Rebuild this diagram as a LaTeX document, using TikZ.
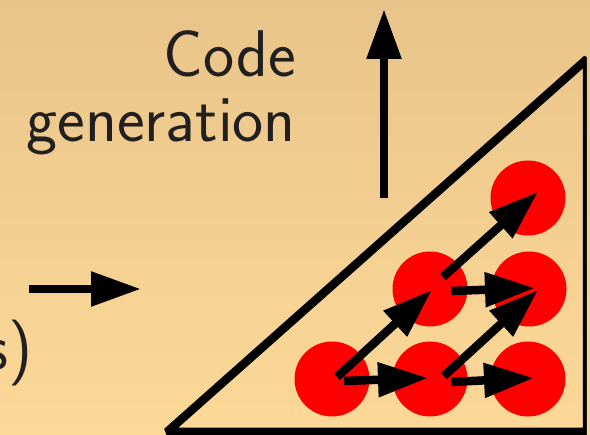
\documentclass[tikz,border=0pt]{standalone}
\usetikzlibrary{arrows.meta}
\definecolor{bgtop}{RGB}{232,196,138}
\definecolor{bgmid}{RGB}{249,213,150}
\definecolor{bgbot}{RGB}{253,217,152}
\definecolor{txt}{RGB}{33,31,31}
\begin{document}
\begin{tikzpicture}[x=1pt,y=-1pt,
  lbl/.style={inner sep=0pt, text=txt, font=\sffamily\fontsize{66}{72}\selectfont},
  dot/.style={circle, fill=red, minimum size=75pt, inner sep=0pt},
  arr/.style={line width=8.5pt, -{Triangle[length=50pt,width=33pt]}},
  tri/.style={line width=8.5pt, line join=bevel},
  bg/.style={top color=bgtop, middle color=bgmid, bottom color=bgbot}]
\useasboundingbox (0,0) rectangle (590,435);
\shade[bg] (0,0) rectangle (590,435);
% labels
\node[lbl, anchor=base east] (code) at (296,77) {Code};
\node[lbl, anchor=base east] (gen) at (296,142) {generation};
\node[lbl, anchor=base east] (s) at (33,370) {s)};
% big arrows
\coordinate (upS) at (384,198);
\coordinate (upE) at (384,9);
\draw[arr] (upS) -- (upE);
\coordinate (inS) at (29,289);
\coordinate (inE) at (141,289);
\draw[arr] (inS) -- (inE);
% triangle
\coordinate (ta) at (167,432);
\coordinate (tb) at (587,432);
\coordinate (tc) at (587,59);
\draw[tri] (ta) -- (tb) -- (tc) -- cycle;
\shade[bg] (586.8,0) rectangle (590,435);
% dots
\node[dot] (b1) at (332,379) {};
\node[dot] (b2) at (430,379) {};
\node[dot] (b3) at (528,379) {};
\node[dot] (m2) at (430,289) {};
\node[dot] (m3) at (529,289) {};
\node[dot] (t3) at (528,198) {};
% dependency arrows
\draw[arr] ([shift={(12,2)}]b1.center) -- ([shift={(-2,-1)}]b2.center);
\draw[arr] ([shift={(5,-2)}]b1.center) -- ([shift={(2,1)}]m2.center);
\draw[arr] ([shift={(21,2)}]m2.center) -- ([shift={(6,-1)}]m3.center);
\draw[arr] ([shift={(13,-12)}]m2.center) -- ([shift={(10,-6)}]t3.center);
\draw[arr] ([shift={(14,-3)}]b2.center) -- ([shift={(9,1)}]m3.center);
\draw[arr] ([shift={(21,3)}]b2.center) -- ([shift={(6,-1)}]b3.center);
\end{tikzpicture}
\end{document}
